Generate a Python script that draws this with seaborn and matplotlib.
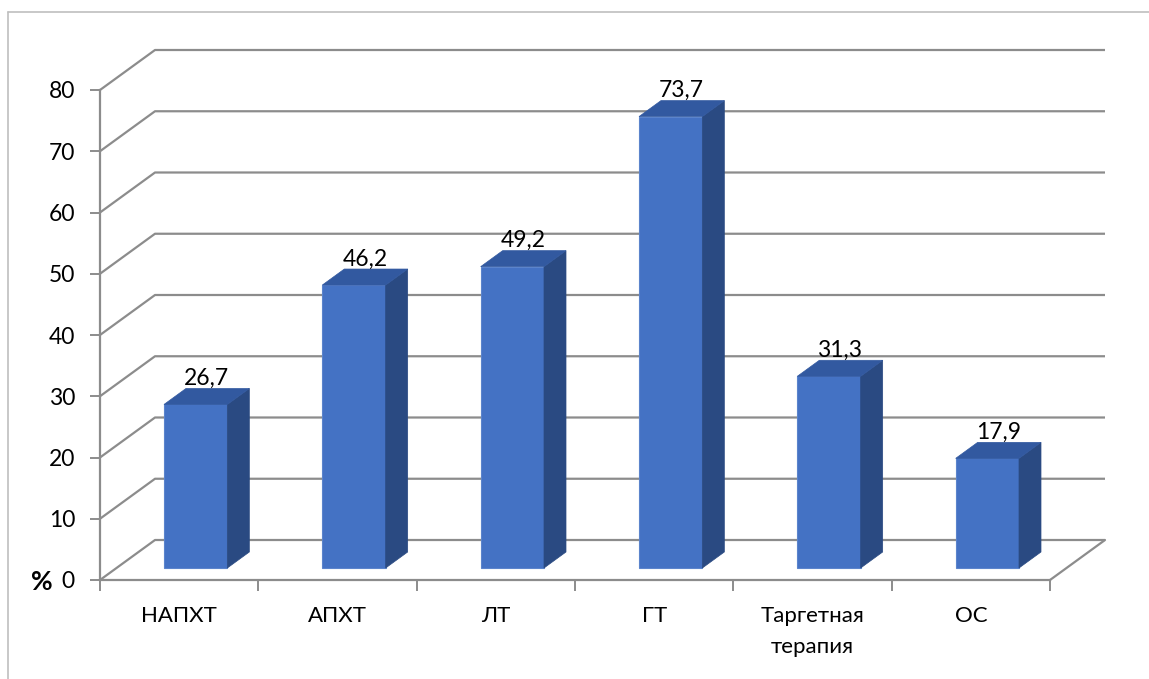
import matplotlib
matplotlib.use("Agg")
import matplotlib.pyplot as plt
from matplotlib.patches import Polygon
import seaborn as sns
import pandas as pd

categories = ["НАПХТ", "АПХТ", "ЛТ", "ГТ", "Таргетная\nтерапия", "ОС"]
values = [26.7, 46.2, 49.2, 73.7, 31.3, 17.9]
value_labels = ["26,7", "46,2", "49,2", "73,7", "31,3", "17,9"]
y_ticks = [0, 10, 20, 30, 40, 50, 60, 70, 80]

sns.set_theme(style="white")
plt.rcParams["font.family"] = ["Lato", "DejaVu Sans"]

W, H = 1149, 679
fig = plt.figure(figsize=(W / 100, H / 100), dpi=100)
# front plane of the 3D box: x from 100 to 1050 px, y(0)=580 px, y(80)=90 px
ax = fig.add_axes([100 / W, (H - 580) / H, 950 / W, 490 / H])

df = pd.DataFrame({"cat": categories, "val": values})

GRID = "#8c8c8c"
FRONT = "#4472C4"
TOP = "#3259A0"
SIDE = "#2A4A82"

# depth vector (one full unit of depth) in data coordinates
DX = 55 / (950 / 6)
DY = 40 / (490 / 80)
D0, D1 = 0.3, 0.7  # bars occupy this slice of the depth

n = len(categories)
x0, x1 = -0.5, n - 0.5

# back wall and left wall gridlines
for v in y_ticks:
    ax.plot([x0, x0 + DX, x1 + DX], [v, v + DY, v + DY],
            color=GRID, lw=1.6, clip_on=False, zorder=1, solid_capstyle="butt")
# right edge of floor
ax.plot([x1, x1 + DX], [0, DY], color=GRID, lw=1.6, clip_on=False, zorder=1)

sns.barplot(data=df, x="cat", y="val", color=FRONT, width=0.4, saturation=1,
            ax=ax, zorder=3, linewidth=0.8, edgecolor="#5b84cc")

for patch, v in zip(ax.patches, values):
    bx = patch.get_x() + D0 * DX
    bw = patch.get_width()
    patch.set_x(bx)
    patch.set_y(D0 * DY)
    patch.set_clip_on(False)
    dx = (D1 - D0) * DX
    dy = (D1 - D0) * DY
    top_y = v + D0 * DY
    side = Polygon([[bx + bw, D0 * DY], [bx + bw + dx, D0 * DY + dy],
                    [bx + bw + dx, top_y + dy], [bx + bw, top_y]],
                   closed=True, facecolor=SIDE, edgecolor=SIDE, lw=0.5,
                   zorder=3, clip_on=False)
    top = Polygon([[bx, top_y], [bx + dx, top_y + dy],
                   [bx + bw + dx, top_y + dy], [bx + bw, top_y]],
                  closed=True, facecolor=TOP, edgecolor=TOP, lw=0.5,
                  zorder=3, clip_on=False)
    ax.add_patch(side)
    ax.add_patch(top)

for i, (v, lab) in enumerate(zip(values, value_labels)):
    ax.text(i + 0.5 * DX, v + D1 * DY + 0.6, lab, ha="center", va="baseline",
            fontsize=16.5, color="black", zorder=5, clip_on=False)

ax.set_xlim(x0, x1)
ax.set_ylim(0, 80)
ax.set_xlabel("")
ax.set_ylabel("")
ax.set_yticks(y_ticks)
ax.set_yticklabels([str(t) for t in y_ticks])
ax.set_xticks(range(n))
ax.set_xticklabels(categories, linespacing=1.7)
ax.set_xticks([i - 0.5 for i in range(n + 1)], minor=True)
ax.tick_params(axis="y", which="major", length=7, width=1.4, color=GRID,
               pad=11, labelsize=16.5, labelcolor="black", left=True, direction="out")
ax.tick_params(axis="x", which="major", length=0, pad=18.5, labelsize=16,
               labelcolor="black")
ax.tick_params(axis="x", which="minor", length=8, width=1.4, color=GRID,
               bottom=True, direction="out")
for s in ["top", "right"]:
    ax.spines[s].set_visible(False)
for s in ["left", "bottom"]:
    ax.spines[s].set_color(GRID)
    ax.spines[s].set_linewidth(1.6)
ax.patch.set_alpha(0)

fig.text(42 / W, (H - 582) / H, "%", fontsize=19, fontweight="bold",
         ha="center", va="center", color="black")

# chart frame
fig.add_artist(plt.Line2D([8 / W, 8 / W], [0, (H - 12) / H], color="#bfbfbf", lw=1.2))
fig.add_artist(plt.Line2D([8 / W, 1], [(H - 12) / H, (H - 12) / H], color="#bfbfbf", lw=1.2))

fig.savefig("out.png", dpi=100, facecolor="white")
